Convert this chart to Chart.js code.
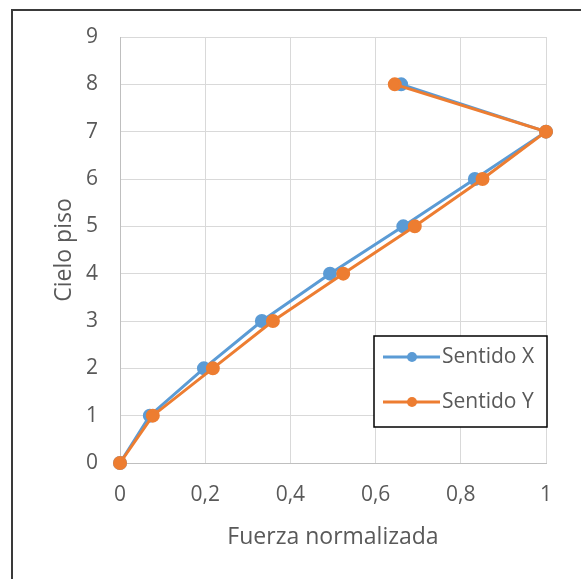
<!DOCTYPE html>
<html>
<head>
<meta charset="utf-8">
<script src="https://cdn.jsdelivr.net/npm/chart.js@4"></script>
<style>
  html, body { margin: 0; padding: 0; background: #ffffff; }
  #wrap { position: relative; width: 581px; height: 579px; }
</style>
</head>
<body>
<div id="wrap"><canvas id="c" width="581" height="579"></canvas></div>
<script>
const pisos = [0, 1, 2, 3, 4, 5, 6, 7, 8];
const sentidoX = [0, 0.070, 0.197, 0.333, 0.493, 0.665, 0.833, 1.0, 0.66];
const sentidoY = [0, 0.077, 0.218, 0.359, 0.524, 0.692, 0.851, 1.0, 0.645];
const seriesNames = ['Sentido X', 'Sentido Y'];
const xTitle = 'Fuerza normalizada';
const yTitle = 'Cielo piso';

const BLUE = '#5b9bd5';
const ORANGE = '#ed7d31';
const FONT = '"Open Sans", sans-serif';
const TXT = '#595959';

function pts(xs) { return xs.map((v, i) => ({ x: v, y: pisos[i] })); }

const borderPlugin = {
  id: 'outerBorder',
  afterDraw(chart) {
    const ctx = chart.ctx;
    ctx.save();
    ctx.strokeStyle = '#3a3a3a';
    ctx.lineWidth = 2;
    ctx.strokeRect(12, 10, 640, 640);
    ctx.restore();
  }
};

const legendPlugin = {
  id: 'boxLegend',
  afterDatasetsDraw(chart) {
    const ctx = chart.ctx;
    const x0 = 374, y0 = 336, w = 173, h = 91;
    ctx.save();
    ctx.fillStyle = '#ffffff';
    ctx.fillRect(x0, y0, w, h);
    ctx.strokeStyle = '#000000';
    ctx.lineWidth = 1.5;
    ctx.strokeRect(x0, y0, w, h);
    const rows = [357, 402];
    chart.data.datasets.forEach((ds, i) => {
      const y = rows[i];
      ctx.strokeStyle = ds.borderColor;
      ctx.lineWidth = 3;
      ctx.beginPath();
      ctx.moveTo(383, y);
      ctx.lineTo(440, y);
      ctx.stroke();
      ctx.fillStyle = ds.backgroundColor;
      ctx.beginPath();
      ctx.arc(412, y, 5, 0, Math.PI * 2);
      ctx.fill();
      ctx.fillStyle = TXT;
      ctx.font = '21px ' + FONT;
      ctx.textAlign = 'left';
      ctx.textBaseline = 'middle';
      ctx.fillText(ds.label, 442, y);
    });
    ctx.restore();
  }
};

new Chart(document.getElementById('c'), {
  type: 'line',
  data: {
    datasets: [
      { label: seriesNames[0], data: pts(sentidoX), borderColor: BLUE, backgroundColor: BLUE, order: 1, clip: false,
        borderWidth: 3, pointRadius: 5.5, pointBackgroundColor: BLUE, pointBorderColor: BLUE, tension: 0 },
      { label: seriesNames[1], data: pts(sentidoY), borderColor: ORANGE, backgroundColor: ORANGE, order: 0, clip: false,
        borderWidth: 3, pointRadius: 5.5, pointBackgroundColor: ORANGE, pointBorderColor: ORANGE, tension: 0 }
    ]
  },
  options: {
    responsive: false,
    animation: false,
    events: [],
    layout: { padding: { left: 50, top: 37, right: 35, bottom: 28 } },
    plugins: { legend: { display: false }, tooltip: { enabled: false } },
    scales: {
      x: {
        type: 'linear', min: 0, max: 1,
        ticks: { stepSize: 0.2, color: TXT, font: { family: FONT, size: 21 }, padding: 19, maxRotation: 0,
          callback: v => String(Math.round(v * 10) / 10).replace('.', ',') },
        grid: { color: '#d9d9d9', drawTicks: false, lineWidth: 1 },
        border: { color: '#bfbfbf', width: 1 },
        title: { display: true, text: xTitle, color: TXT, font: { family: FONT, size: 23 }, padding: { top: 8, bottom: 0 } },
        afterFit(s) { s.height = 88; }
      },
      y: {
        type: 'linear', min: 0, max: 9,
        ticks: { stepSize: 1, color: TXT, font: { family: FONT, size: 21 }, padding: 22 },
        grid: { color: '#d9d9d9', drawTicks: false, lineWidth: 1 },
        border: { color: '#bfbfbf', width: 1 },
        title: { display: true, text: yTitle, color: TXT, font: { family: FONT, size: 23 }, padding: { top: 1, bottom: 0 } },
        afterFit(s) { s.width = 70; }
      }
    }
  },
  plugins: [borderPlugin, legendPlugin]
});
</script>
</body>
</html>
